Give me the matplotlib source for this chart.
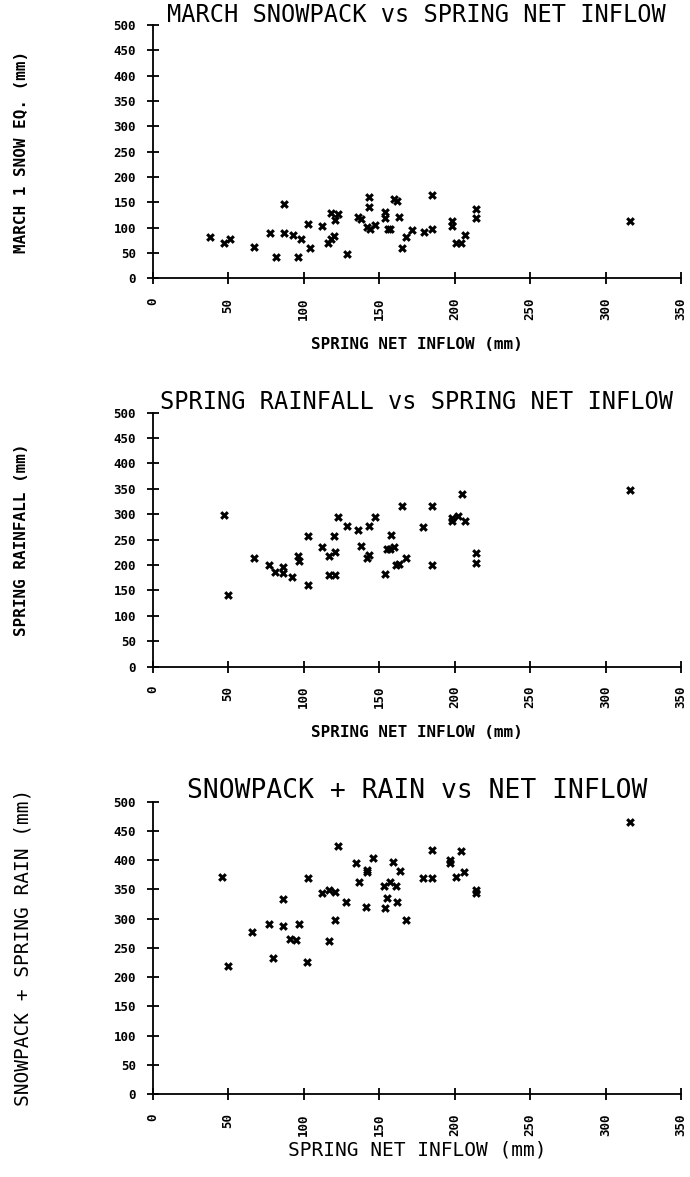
import numpy as np
import matplotlib
matplotlib.use("Agg")
import matplotlib.pyplot as plt

## the data
inflow_snow = [38, 47, 51, 67, 78, 82, 87, 87, 93, 96, 98, 103, 104, 112, 116,
               118, 118, 120, 121, 123, 129, 136, 138, 142, 143, 143, 144, 147,
               154, 154, 156, 157, 160, 162, 163, 165, 168, 172, 180, 185, 185,
               198, 198, 201, 204, 207, 214, 214, 316]
snow = [82, 70, 77, 61, 89, 43, 146, 90, 85, 43, 77, 108, 60, 103, 70,
        128, 77, 84, 115, 127, 48, 121, 118, 102, 161, 140, 98, 106,
        131, 120, 97, 98, 157, 152, 121, 60, 82, 95, 91, 165, 97,
        113, 103, 70, 70, 86, 136, 120, 113]

inflow_rain = [47, 50, 67, 77, 81, 86, 86, 92, 96, 97, 103, 103, 112, 117, 117,
               120, 121, 121, 123, 129, 136, 138, 142, 143, 143, 147, 154, 155,
               157, 158, 160, 161, 163, 165, 168, 179, 185, 185, 198, 198, 202,
               205, 207, 214, 214, 316]
rain = [299, 140, 213, 200, 187, 196, 184, 177, 217, 208, 257, 160, 236, 217, 181,
        257, 181, 225, 294, 277, 269, 238, 213, 219, 277, 294, 182, 232,
        232, 259, 236, 200, 202, 317, 213, 275, 317, 200, 286, 292, 297,
        340, 287, 223, 204, 348]

inflow_total = [46, 50, 66, 77, 80, 86, 86, 91, 95, 97, 102, 103, 112, 117, 117,
                121, 121, 123, 128, 135, 137, 141, 142, 142, 146, 153, 154, 155,
                157, 159, 161, 162, 164, 168, 179, 185, 185, 197, 197, 201, 204,
                206, 214, 214, 316]
total = [372, 219, 277, 291, 233, 288, 334, 265, 264, 291, 225, 369, 343, 262, 349,
         346, 298, 425, 328, 395, 362, 320, 384, 379, 404, 356, 318, 335,
         363, 397, 356, 329, 382, 298, 370, 417, 370, 400, 395, 371, 416,
         379, 349, 344, 466]

xticks = np.arange(0, 351, 50)
yticks = np.arange(0, 501, 50)

MONO = "DejaVu Sans Mono"

fig = plt.figure(figsize=(6.9, 11.77), dpi=100)

W, H = 690.0, 1177.0


def make_axes(top, bottom):
    left, right = 152.7, 681.0
    return fig.add_axes([left / W, 1 - bottom / H, (right - left) / W, (bottom - top) / H])


def style(ax):
    ax.spines['top'].set_visible(False)
    ax.spines['right'].set_visible(False)
    for s in ('left', 'bottom'):
        ax.spines[s].set_linewidth(1.3)
    ax.set_xlim(0, 350)
    ax.set_ylim(0, 500)
    ax.set_xticks(xticks)
    ax.set_yticks(yticks)
    ax.set_xticklabels([str(t) for t in xticks], rotation=90,
                       fontfamily=MONO, fontweight='bold', fontsize=9)
    ax.set_yticklabels([str(t) for t in yticks],
                       fontfamily=MONO, fontweight='bold', fontsize=9)
    ax.tick_params(axis='x', direction='inout', length=8, width=1.3, pad=10)
    ax.tick_params(axis='y', direction='inout', length=8, width=1.3, pad=8)


def title(ax, text, size):
    ax.annotate(text, xy=(0.5, 1.0), xycoords='axes fraction',
                xytext=(0, 7.5), textcoords='offset points',
                ha='center', va='center', fontfamily=MONO, fontsize=size)


ax1 = make_axes(25.0, 278.3)
ax1.scatter(inflow_snow, snow, marker='X', s=40, color='black', linewidths=0)
style(ax1)
title(ax1, 'MARCH SNOWPACK vs SPRING NET INFLOW', 17)
ax1.set_xlabel('SPRING NET INFLOW (mm)', fontfamily=MONO, fontweight='bold',
               fontsize=11.5, labelpad=12)
ax1.set_ylabel('MARCH 1 SNOW EQ. (mm)', fontfamily=MONO, fontweight='bold',
               fontsize=11.5, labelpad=61)

ax2 = make_axes(412.7, 666.5)
ax2.scatter(inflow_rain, rain, marker='X', s=40, color='black', linewidths=0)
style(ax2)
title(ax2, 'SPRING RAINFALL vs SPRING NET INFLOW', 17)
ax2.set_xlabel('SPRING NET INFLOW (mm)', fontfamily=MONO, fontweight='bold',
               fontsize=11.5, labelpad=12)
ax2.set_ylabel('SPRING RAINFALL (mm)', fontfamily=MONO, fontweight='bold',
               fontsize=11.5, labelpad=61)

ax3 = make_axes(801.7, 1094.0)
ax3.scatter(inflow_total, total, marker='X', s=40, color='black', linewidths=0)
style(ax3)
title(ax3, 'SNOWPACK + RAIN vs NET INFLOW', 19)
ax3.set_xlabel('SPRING NET INFLOW (mm)', fontfamily=MONO, fontsize=14, labelpad=3)
ax3.set_ylabel('SNOWPACK + SPRING RAIN (mm)', fontfamily=MONO, fontsize=14, labelpad=58)

fig.savefig('out.png', dpi=100)
